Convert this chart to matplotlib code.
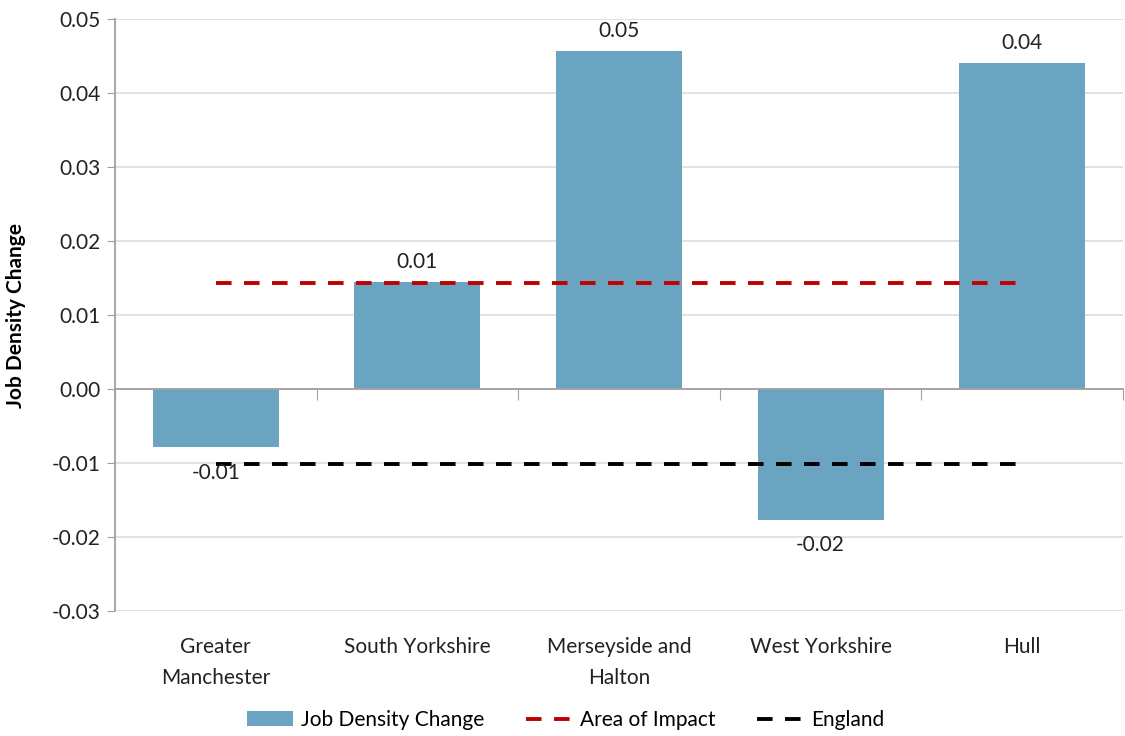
import matplotlib
matplotlib.use("Agg")
import matplotlib.pyplot as plt
import numpy as np

categories = ["Greater\nManchester", "South Yorkshire", "Merseyside and\nHalton", "West Yorkshire", "Hull"]
job_density_change = [-0.0079, 0.0145, 0.0457, -0.0177, 0.0441]
area_of_impact = [0.0143] * 5
england = [-0.0102] * 5
yticks = [-0.03, -0.02, -0.01, 0.00, 0.01, 0.02, 0.03, 0.04, 0.05]

plt.rcParams['font.family'] = ['Lato', 'DejaVu Sans']
FS = 15

fig = plt.figure(figsize=(11.25, 7.36), dpi=100)
ax = fig.add_axes([0.1022, 0.170, 0.8960, 0.804])

x = np.arange(len(categories))
bar_color = "#6aa4c0"
b = ax.bar(x, job_density_change, width=0.625, color=bar_color, zorder=2, label="Job Density Change")
l1, = ax.plot(x, area_of_impact, color="#c00000", lw=2.8, dashes=(4, 3.2), zorder=3, label="Area of Impact")
l2, = ax.plot(x, england, color="black", lw=2.8, dashes=(4, 3.2), zorder=3, label="England")

for xi, v in zip(x, job_density_change):
    if v >= 0:
        ax.annotate(f"{v:.2f}", (xi, v), xytext=(0, 7), textcoords="offset points",
                    ha="center", va="bottom", fontsize=FS, color="#222222")
    else:
        ax.annotate(f"{v:.2f}", (xi, v), xytext=(0, -11), textcoords="offset points",
                    ha="center", va="top", fontsize=FS, color="#222222")

ax.set_xlim(-0.5, 4.5)
ax.set_ylim(-0.03, 0.05)
ax.set_yticks(yticks)
ax.set_yticklabels([f"{t:.2f}" for t in yticks], fontsize=FS, color="#222222")
ax.yaxis.grid(True, color="#deded6", lw=1.2, zorder=0)
ax.set_axisbelow(True)

for s in ["top", "right"]:
    ax.spines[s].set_visible(False)
ax.spines["left"].set_color("#a0a0a0")
ax.spines["left"].set_linewidth(1.3)
ax.spines["bottom"].set_position(("data", 0))
ax.spines["bottom"].set_color("#a0a0a0")
ax.spines["bottom"].set_linewidth(1.3)
ax.tick_params(axis="y", length=6, color="#a0a0a0", pad=4)

# category boundary ticks on zero axis
ax.set_xticks(np.arange(-0.5, 5, 1.0))
ax.set_xticklabels([])
ax.tick_params(axis="x", length=8, color="#a0a0a0", direction="out")
for xi, c in zip(x, categories):
    ax.text(xi, -0.0335, c, ha="center", va="top", fontsize=FS, color="#222222",
            linespacing=1.7)

ax.set_ylabel("Job Density Change", fontsize=FS, fontweight="bold")
ax.yaxis.set_label_coords(-0.088, 0.5)

leg = fig.legend(handles=[b, l1, l2], loc="center", bbox_to_anchor=(0.503, 0.022), ncol=3,
                 frameon=False, fontsize=FS, handlelength=2.2, columnspacing=2.0,
                 handletextpad=0.4)

fig.savefig("out.png", dpi=100)
